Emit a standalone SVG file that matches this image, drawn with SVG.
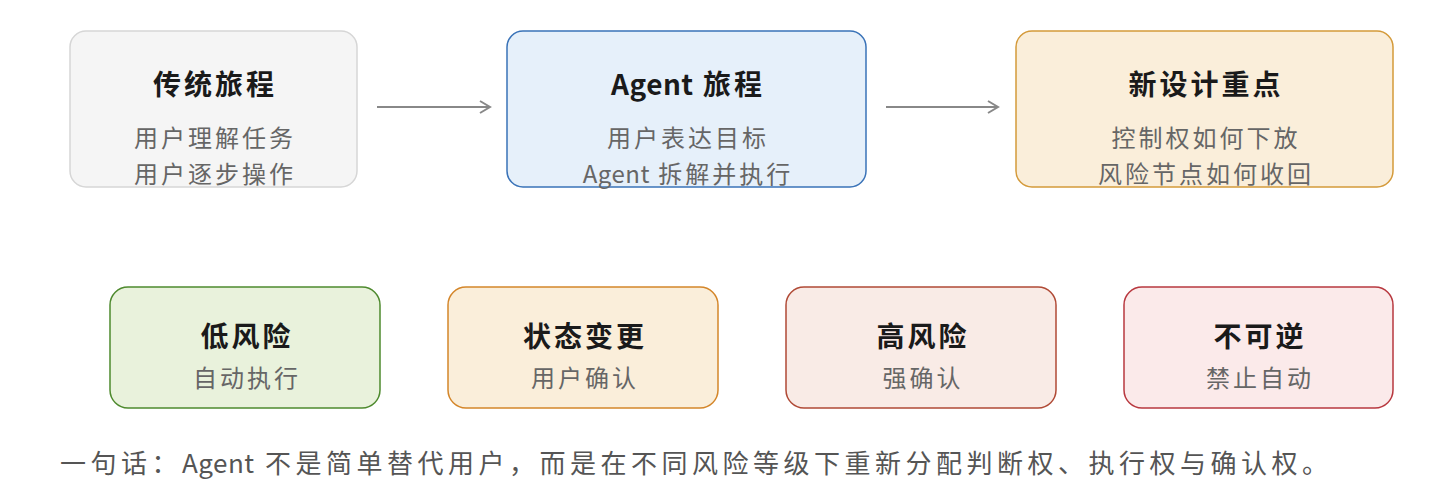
<svg xmlns="http://www.w3.org/2000/svg" width="1441" height="496" viewBox="0 0 1441 496">
<style>
text{font-family:"Noto Sans CJK SC","Noto Sans",sans-serif;text-anchor:middle;}
.t{font-size:28px;font-weight:bold;fill:#1a1a1a;letter-spacing:3px;}
.s{font-size:24px;fill:#666;letter-spacing:3px;}
.f{font-size:26px;fill:#555;text-anchor:start;letter-spacing:4.5px;}
.l{letter-spacing:0.5px;}
.c{stroke:#888;stroke-width:2;fill:none;}
</style>
<defs><marker id="a" markerWidth="14" markerHeight="14" refX="12" refY="7" orient="auto" markerUnits="userSpaceOnUse"><path d="M2,1 L12,7 L2,13" fill="none" stroke="#888" stroke-width="2"/></marker></defs>
<g id="n1"><rect x="70" y="31" width="287" height="156" rx="16" fill="#f5f5f5" stroke="#d6d6d6" stroke-width="1.5"/><text class="t" x="215" y="95">传统旅程</text><text class="s" x="215" y="147">用户理解任务</text><text class="s" x="215" y="183">用户逐步操作</text></g>
<g id="n2"><rect x="507" y="31" width="359" height="156" rx="16" fill="#e6f0fa" stroke="#3a73b8" stroke-width="1.5"/><text class="t" x="688" y="95"><tspan class="l">Agent</tspan> 旅程</text><text class="s" x="688" y="147">用户表达目标</text><text class="s" x="688" y="183"><tspan class="l">Agent</tspan> 拆解并执行</text></g>
<g id="n3"><rect x="1016" y="31" width="377" height="156" rx="16" fill="#faeeda" stroke="#d49a3a" stroke-width="1.5"/><text class="t" x="1206" y="95">新设计重点</text><text class="s" x="1206" y="147">控制权如何下放</text><text class="s" x="1206" y="183">风险节点如何收回</text></g>
<g id="n4"><rect x="110" y="287" width="270" height="121" rx="18" fill="#e9f2dc" stroke="#4e8a2e" stroke-width="1.5"/><text class="t" x="247" y="347">低风险</text><text class="s" x="247" y="387">自动执行</text></g>
<g id="n5"><rect x="448" y="287" width="270" height="121" rx="18" fill="#faeeda" stroke="#d4862a" stroke-width="1.5"/><text class="t" x="585" y="347">状态变更</text><text class="s" x="585" y="387">用户确认</text></g>
<g id="n6"><rect x="786" y="287" width="270" height="121" rx="18" fill="#f9ebe6" stroke="#b04a36" stroke-width="1.5"/><text class="t" x="923" y="347">高风险</text><text class="s" x="923" y="387">强确认</text></g>
<g id="n7"><rect x="1124" y="287" width="269" height="121" rx="18" fill="#fbeaea" stroke="#b8383f" stroke-width="1.5"/><text class="t" x="1260" y="347">不可逆</text><text class="s" x="1260" y="387">禁止自动</text></g>
<g id="connectors"><line class="c" x1="377" y1="107" x2="490" y2="107" marker-end="url(#a)"/><line class="c" x1="886" y1="107" x2="998" y2="107" marker-end="url(#a)"/></g>
<text class="f" x="60" y="473">一句话：<tspan class="l">Agent</tspan> 不是简单替代用户，而是在不同风险等级下重新分配判断权、执行权与确认权。</text>
</svg>
